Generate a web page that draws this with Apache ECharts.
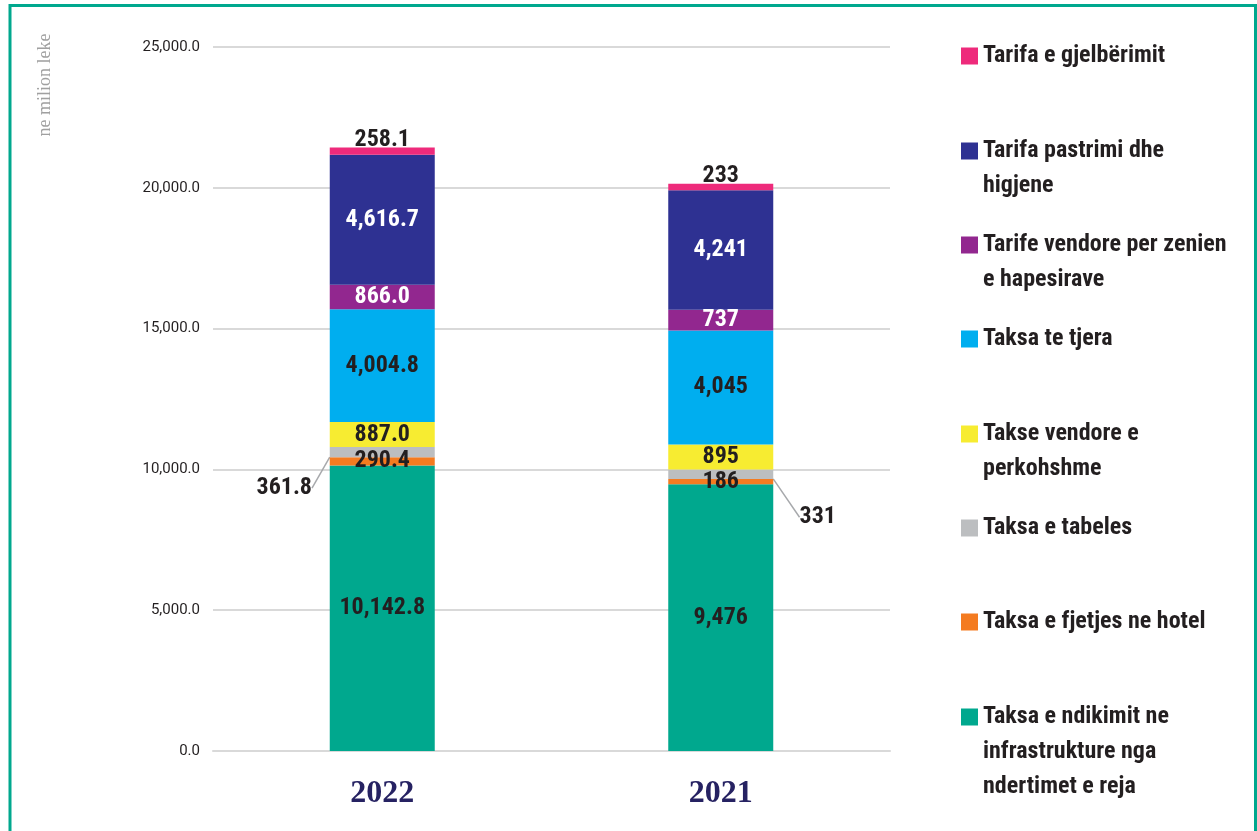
<!DOCTYPE html>
<html>
<head>
<meta charset="utf-8">
<script src="https://cdn.jsdelivr.net/npm/echarts@6/dist/echarts.min.js"></script>
<style>
  html, body { margin: 0; padding: 0; background: #fff; }
  #main { width: 1257px; height: 831px; }
</style>
</head>
<body>
<div id="main"></div>
<script>
// vitet
var years = ['2022', '2021'];
var decimals = [1, 0]; // 2022 me nje decimal, 2021 numra te plote

// seritë nga poshte lart
var ndikimi = [10142.8, 9476];
var fjetja = [290.4, 186];
var tabela = [361.8, 331];
var perkohshme = [887.0, 895];
var tjera = [4004.8, 4045];
var zenia = [866.0, 737];
var pastrimi = [4616.7, 4241];
var gjelberimi = [258.1, 233];

var yTicks = [0, 5000, 10000, 15000, 20000, 25000];

var names = [
  'Taksa e ndikimit ne\ninfrastrukture nga\nndertimet e reja',
  'Taksa e fjetjes ne hotel',
  'Taksa e tabeles',
  'Takse vendore e\nperkohshme',
  'Taksa te tjera',
  'Tarife vendore per zenien\ne hapesirave',
  'Tarifa pastrimi dhe\nhigjene',
  'Tarifa e gjelbërimit'
];
var values = [ndikimi, fjetja, tabela, perkohshme, tjera, zenia, pastrimi, gjelberimi];
var colors = ['#00a88e', '#f47b20', '#bcbec0', '#f7ec31', '#00aeef', '#92278f', '#2e3192', '#ee2a7b'];
var labelColors = ['#231f20', '#231f20', '#231f20', '#231f20', '#231f20', '#fff', '#fff', '#231f20'];

var labelFont = "'Liberation Sans Narrow', 'Roboto Condensed', Roboto, sans-serif";

function fmt(p) {
  var d = decimals[p.dataIndex];
  return p.value.toLocaleString('en-US', { minimumFractionDigits: d, maximumFractionDigits: d });
}

var series = names.map(function (n, i) {
  var s = {
    name: n,
    type: 'bar',
    stack: 'total',
    barWidth: 105,
    data: values[i],
    itemStyle: { color: colors[i] },
    label: {
      show: true,
      position: 'inside',
      formatter: fmt,
      color: labelColors[i],
      fontFamily: labelFont,
      fontWeight: 'bold',
      fontSize: 24
    }
  };
  if (i === 7) {
    s.label.position = 'top';
    s.label.distance = -4;
  }
  if (i === 2) {
    // etiketa jashte me vije udhezuese
    s.labelLayout = function (p) {
      return p.dataIndex === 0 ? { dx: -98, dy: 36 } : { dx: 97, dy: 43 };
    };
    s.labelLine = { show: true, lineStyle: { color: '#a7a9ac', width: 1.5 } };
  }
  return s;
});

// legjenda: nje komponent per cdo rresht, nga lart poshte
var legendCenters = [717, 622, 528, 434, 339, 245, 151, 56];
var lh = 35;
var legends = names.map(function (n, i) {
  var lines = n.split('\n').length;
  return {
    left: 961,
    top: legendCenters[i] - (2 * lines - 1) * lh / 2,
    padding: 0,
    orient: 'vertical',
    icon: 'rect',
    itemWidth: 17,
    itemHeight: 17,
    selectedMode: false,
    data: [n],
    formatter: function (name) {
      var k = name.split('\n').length - 1;
      var pad = '';
      for (var j = 0; j < k; j++) pad += '\n';
      return pad + name;
    },
    textStyle: {
      fontFamily: labelFont,
      fontWeight: 'bold',
      fontSize: 24,
      lineHeight: lh,
      color: '#231f20'
    }
  };
});

var chart = echarts.init(document.getElementById('main'));
chart.setOption({
  animation: false,
  grid: { left: 213, right: 367, top: 47, bottom: 80 },
  legend: legends,
  xAxis: {
    type: 'category',
    data: years,
    axisTick: { show: false },
    axisLine: { lineStyle: { color: '#d9d9d9', width: 2 } },
    axisLabel: {
      margin: 27,
      fontFamily: "'Liberation Serif', serif",
      fontWeight: 'bold',
      fontSize: 32,
      color: '#262262'
    }
  },
  yAxis: {
    type: 'value',
    min: yTicks[0],
    max: yTicks[yTicks.length - 1],
    interval: yTicks[1] - yTicks[0],
    axisLine: { show: false },
    axisTick: { show: false },
    splitLine: { lineStyle: { color: '#d9d9d9', width: 2 } },
    axisLabel: {
      margin: 13,
      fontFamily: 'Roboto, sans-serif',
      fontSize: 15,
      color: '#231f20',
      formatter: function (v) {
        return v.toLocaleString('en-US', { minimumFractionDigits: 1, maximumFractionDigits: 1 });
      }
    }
  },
  graphic: [
    {
      type: 'rect',
      shape: { x: 10, y: 5.5, width: 1245.5, height: 900 },
      style: { fill: 'none', stroke: '#00a88e', lineWidth: 3 },
      silent: true
    },
    {
      type: 'text',
      x: 45,
      y: 85,
      rotation: Math.PI / 2,
      style: {
        text: 'ne milion leke',
        font: "18px 'Liberation Serif', serif",
        fill: '#a0a0a0',
        align: 'center',
        verticalAlign: 'middle'
      }
    }
  ],
  series: series
});
</script>
</body>
</html>
